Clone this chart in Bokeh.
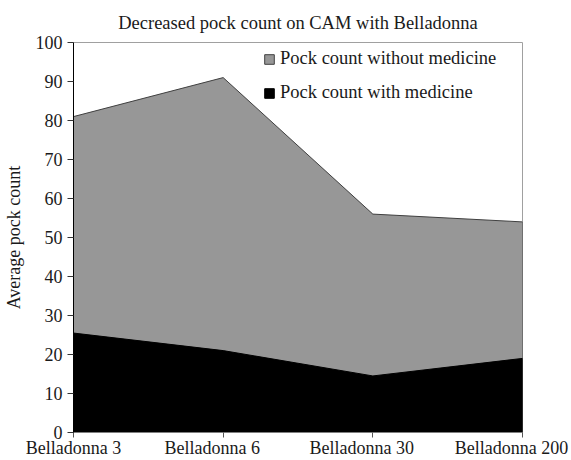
from bokeh.plotting import figure
from bokeh.models import FixedTicker, Legend, LegendItem, LinearAxis, Range1d
from bokeh.embed import file_html
from bokeh.resources import INLINE

# ---- data ----
categories = ["Belladonna 3", "Belladonna 6", "Belladonna 30", "Belladonna 200"]
without_medicine = [81, 91, 56, 54]
with_medicine = [25.5, 21, 14.5, 19]
y_ticks = [0, 10, 20, 30, 40, 50, 60, 70, 80, 90, 100]
series_names = ["Pock count without medicine", "Pock count with medicine"]

FONT = "Liberation Serif"
TEXT = "#1a1a1a"

xs = list(range(len(categories)))

p = figure(width=571, height=460, output_backend="svg", toolbar_location=None,
           x_range=Range1d(0, len(categories) - 1), y_range=Range1d(0, 100),
           title="Decreased pock count on CAM with Belladonna",
           min_border_left=73, min_border_right=49, min_border_top=42,
           min_border_bottom=28, x_axis_location=None)

p.title.text_font = FONT
p.title.text_font_size = "18.5px"
p.title.text_font_style = "normal"
p.title.text_color = TEXT
p.title.align = "center"
p.title.standoff = 20

p.grid.visible = False
p.background_fill_color = "white"
p.border_fill_color = "white"
p.outline_line_color = "#a0a0a0"
p.outline_line_width = 1

# areas as polygons closed down to zero
px = xs + [xs[-1], xs[0]]
r1 = p.patch(px, without_medicine + [0, 0], fill_color="#979797",
             line_color="#404040", line_width=1)
r2 = p.patch(px, with_medicine + [0, 0], fill_color="#000000",
             line_color="#000000", line_width=1)

legend = Legend(items=[LegendItem(label=series_names[0], renderers=[r1]),
                       LegendItem(label=series_names[1], renderers=[r2])],
                location=(190, 329), padding=0, margin=0, spacing=13,
                glyph_width=12, glyph_height=12, label_standoff=5,
                label_height=20, border_line_color=None,
                background_fill_alpha=0,
                label_text_font=FONT, label_text_font_size="18.5px",
                label_text_color=TEXT)
p.add_layout(legend)

# y axis
ya = p.yaxis[0]
ya.ticker = FixedTicker(ticks=y_ticks)
ya.axis_label = "Average pock count"
ya.axis_label_text_font = FONT
ya.axis_label_text_font_size = "18px"
ya.axis_label_text_font_style = "normal"
ya.axis_label_text_color = TEXT
ya.axis_label_standoff = 9
ya.major_label_text_font = FONT
ya.major_label_text_font_size = "18px"
ya.major_label_text_color = TEXT
ya.major_label_standoff = 5
ya.major_tick_in = 0
ya.major_tick_out = 6
ya.minor_tick_line_color = None
ya.axis_line_color = "#000000"
ya.major_tick_line_color = "#333333"

# x axis (line + tick marks at each category)
xa = LinearAxis(ticker=FixedTicker(ticks=xs),
                major_label_overrides={i: "" for i in xs},
                major_label_standoff=0, major_tick_in=0, major_tick_out=5,
                minor_tick_line_color=None, axis_line_color="#7f7f7f",
                major_tick_line_color="#555555")
p.add_layout(xa, "below")

# category labels, drawn a little left of their tick marks (as in the original)
shift = 0.0735
label_pos = [xs[0]] + [i - shift for i in xs[1:]]
xl = LinearAxis(ticker=FixedTicker(ticks=label_pos),
                major_label_overrides={pos: c for pos, c in zip(label_pos, categories)},
                major_label_standoff=0, major_tick_in=0, major_tick_out=0,
                minor_tick_line_color=None, axis_line_color=None,
                major_tick_line_color=None,
                major_label_text_font=FONT, major_label_text_font_size="18px",
                major_label_text_color=TEXT)
p.add_layout(xl, "below")

open("out.html", "w").write(file_html(p, INLINE))
